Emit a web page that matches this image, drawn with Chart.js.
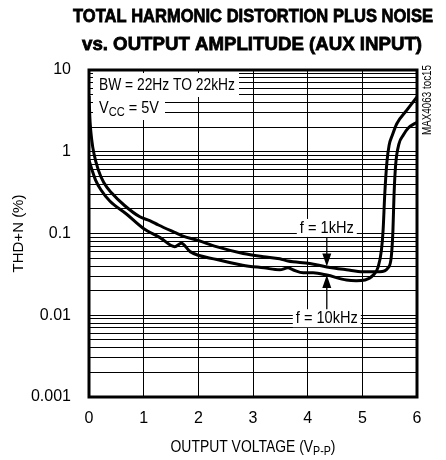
<!DOCTYPE html>
<html><head><meta charset="utf-8">
<script src="https://cdn.jsdelivr.net/npm/chart.js@4.4.1/dist/chart.umd.min.js"></script>
<style>html,body{margin:0;padding:0;background:#fff;overflow:hidden}</style>
</head><body>
<canvas id="c" width="446" height="460"></canvas>
<script>
// ---- data ----
const volts1k = [0, 0.02, 0.05, 0.09, 0.17, 0.27, 0.42, 0.65, 0.93, 1.12, 1.27, 1.6, 1.72, 2.0, 2.33, 2.82, 3.19, 3.49, 3.64, 4.04, 4.35, 4.71, 5.01, 5.32, 5.47, 5.53, 5.56, 5.58, 5.61, 5.67, 5.75, 5.84, 6.0];
const thd1k   = [4.8, 2.3, 1.4, 0.95, 0.60, 0.42, 0.31, 0.22, 0.16, 0.143, 0.127, 0.101, 0.093, 0.082, 0.069, 0.057, 0.052, 0.049, 0.046, 0.043, 0.039, 0.036, 0.034, 0.034, 0.038, 0.052, 0.11, 0.3, 0.7, 1.25, 1.6, 1.95, 2.3];
const volts10k = [0, 0.055, 0.12, 0.22, 0.38, 0.69, 0.99, 1.3, 1.57, 1.69, 1.85, 2.34, 2.81, 3.2, 3.49, 3.64, 3.73, 3.92, 4.1, 4.35, 4.71, 4.89, 5.05, 5.2, 5.29, 5.35, 5.38, 5.41, 5.45, 5.49, 5.55, 5.63, 5.81, 6.0];
const thd10k   = [0.79, 0.6, 0.45, 0.34, 0.25, 0.172, 0.116, 0.089, 0.069, 0.076, 0.060, 0.048, 0.041, 0.038, 0.036, 0.038, 0.036, 0.033, 0.033, 0.031, 0.027, 0.0265, 0.027, 0.031, 0.039, 0.063, 0.11, 0.3, 0.75, 1.2, 1.6, 2.2, 3.2, 4.7];
const xTicks = [0, 1, 2, 3, 4, 5, 6];
const yDecades = [0.001, 0.01, 0.1, 1, 10];
const yTickLabels = ['0.001', '0.01', '0.1', '1', '10'];
const seriesNames = ['f = 1kHz', 'f = 10kHz'];
const titleLines = ['TOTAL HARMONIC DISTORTION PLUS NOISE', 'vs. OUTPUT AMPLITUDE (AUX INPUT)'];
const markerVolt = 4.35;

const FONT = "'Liberation Sans', Arial, sans-serif";

const toPts = (xs, ys) => xs.map((v, i) => ({x: v, y: ys[i]}));

// log grid values 1..9 x each decade
const yGrid = [];
for (let d = 0; d < yDecades.length - 1; d++) {
  for (let k = 1; k <= 9; k++) yGrid.push(+(yDecades[d] * k).toPrecision(3));
}
yGrid.push(yDecades[yDecades.length - 1]);

// draw runs of text (with optional subscripts) squeezed/stretched to a target width
function fitRuns(ctx, runs, cx, cy, targetW, align, bigFont, subFont, subDy, strokeW) {
  const widths = runs.map(r => { ctx.font = r.sub ? subFont : bigFont; return ctx.measureText(r.t).width; });
  const total = widths.reduce((a, b) => a + b, 0);
  const s = targetW / total;
  ctx.save();
  ctx.translate(cx, cy);
  ctx.scale(s, 1);
  let x = align === 'center' ? -total / 2 : 0;
  ctx.textAlign = 'left';
  runs.forEach((r, i) => {
    ctx.font = r.sub ? subFont : bigFont;
    ctx.fillText(r.t, x, r.sub ? subDy : 0);
    if (strokeW) { ctx.lineWidth = strokeW; ctx.strokeStyle = ctx.fillStyle; ctx.strokeText(r.t, x, r.sub ? subDy : 0); }
    x += widths[i];
  });
  ctx.restore();
}

const annot = {
  id: 'annot',
  beforeDatasetsDraw(chart) {
    const {ctx, chartArea: a, scales: {x, y}} = chart;
    ctx.save();
    ctx.textBaseline = 'middle';
    const F = '17px ' + FONT, FS = '12px ' + FONT;
    // BW / VCC boxes
    ctx.fillStyle = '#fff';
    ctx.fillRect(a.left + 4, a.top + 3, 146, 24);
    ctx.fillRect(a.left + 4, a.top + 27, 72, 23);
    ctx.fillStyle = '#000';
    fitRuns(ctx, [{t: 'BW = 22Hz TO 22kHz'}], a.left + 10, a.top + 15.5, 136, 'left', F, FS, 0);
    fitRuns(ctx, [{t: 'V'}, {t: 'CC', sub: true}, {t: ' = 5V'}], a.left + 10, a.top + 38, 60, 'left', F, '13px ' + FONT, 4);

    // frequency labels
    const mx = x.getPixelForValue(markerVolt);
    const labels = [
      {t: seriesNames[0], yv: 0.117, w: 54},
      {t: seriesNames[1], yv: 0.0092, w: 62}
    ];
    labels.forEach(L => {
      const py = y.getPixelForValue(L.yv);
      ctx.fillStyle = '#fff';
      ctx.fillRect(mx - L.w / 2 - 3, py - 9, L.w + 6, 18);
      ctx.fillStyle = '#000';
      fitRuns(ctx, [{t: L.t}], mx, py, L.w, 'center', F, FS, 0);
    });
    // arrows
    const tip1 = y.getPixelForValue(0.0395);
    const tip2 = y.getPixelForValue(0.031);
    const top1 = y.getPixelForValue(0.117) + 9;
    const bot2 = y.getPixelForValue(0.0092) - 9;
    ctx.strokeStyle = '#000';
    ctx.lineWidth = 1.3;
    ctx.beginPath();
    ctx.moveTo(mx, top1); ctx.lineTo(mx, tip1 - 10);
    ctx.moveTo(mx, bot2); ctx.lineTo(mx, tip2 + 10);
    ctx.stroke();
    ctx.beginPath();
    ctx.moveTo(mx - 4.5, tip1 - 13); ctx.lineTo(mx + 4.5, tip1 - 13); ctx.lineTo(mx, tip1); ctx.closePath();
    ctx.moveTo(mx - 4.5, tip2 + 13); ctx.lineTo(mx + 4.5, tip2 + 13); ctx.lineTo(mx, tip2); ctx.closePath();
    ctx.fill();
    ctx.restore();
  },
  afterDraw(chart) {
    const {ctx, chartArea: a} = chart;
    ctx.save();
    ctx.strokeStyle = '#000';
    ctx.lineWidth = 3;
    ctx.strokeRect(a.left, a.top, a.right - a.left, a.bottom - a.top);
    ctx.fillStyle = '#000';
    // title
    ctx.textBaseline = 'alphabetic';
    const TF = 'bold 19px ' + FONT;
    const cx = (a.left + a.right) / 2;
    fitRuns(ctx, [{t: titleLines[0]}], cx, 22, 360, 'center', TF, TF, 0, 0.8);
    fitRuns(ctx, [{t: titleLines[1]}], cx - 1, 49.5, 340, 'center', TF, TF, 0, 0.8);
    // x-axis title with subscript
    ctx.textBaseline = 'middle';
    fitRuns(ctx, [{t: 'OUTPUT VOLTAGE (V'}, {t: 'P-P', sub: true}, {t: ')'}], cx, 447, 165, 'center', '17px ' + FONT, '13px ' + FONT, 4);
    // side code
    ctx.translate(a.right + 11, a.top + 30);
    ctx.rotate(-Math.PI / 2);
    fitRuns(ctx, [{t: 'MAX4063 toc15'}], 0, 0, 70, 'center', '12px ' + FONT, '12px ' + FONT, 0);
    ctx.restore();
  }
};

new Chart(document.getElementById('c'), {
  type: 'line',
  data: {
    datasets: [
      {label: seriesNames[0], data: toPts(volts1k, thd1k), borderColor: '#000', borderWidth: 3, pointRadius: 0, cubicInterpolationMode: 'monotone', fill: false},
      {label: seriesNames[1], data: toPts(volts10k, thd10k), borderColor: '#000', borderWidth: 3, pointRadius: 0, cubicInterpolationMode: 'monotone', fill: false}
    ]
  },
  options: {
    responsive: false,
    animation: false,
    devicePixelRatio: 1,
    layout: {padding: {top: 70, right: 29, left: 0, bottom: 0}},
    plugins: {
      legend: {display: false},
      tooltip: {enabled: false},
      title: {display: false, text: titleLines}
    },
    scales: {
      x: {
        type: 'linear', min: 0, max: 6,
        afterBuildTicks: s => { s.ticks = xTicks.map(v => ({value: v})); },
        ticks: {color: '#000', font: {family: FONT, size: 16}, padding: 12, autoSkip: false, maxRotation: 0},
        grid: {color: '#000', lineWidth: 1, drawTicks: false},
        border: {display: false},
        afterFit: s => { s.height = 63; }
      },
      y: {
        type: 'logarithmic', min: yDecades[0], max: yDecades[yDecades.length - 1],
        afterBuildTicks: s => { s.ticks = yGrid.map(v => ({value: v})); },
        ticks: {
          color: '#000', font: {family: FONT, size: 16}, padding: 18, autoSkip: false,
          callback: v => { const i = yDecades.findIndex(d => Math.abs(d - v) / d < 1e-6); return i >= 0 ? yTickLabels[i] : ''; }
        },
        grid: {color: '#000', lineWidth: 1, drawTicks: false},
        border: {display: false},
        title: {display: true, text: 'THD+N (%)', color: '#000', font: {family: FONT, size: 15}, padding: {top: 10, bottom: 0}},
        afterFit: s => { s.width = 89; }
      }
    }
  },
  plugins: [annot]
});
</script>
</body></html>
